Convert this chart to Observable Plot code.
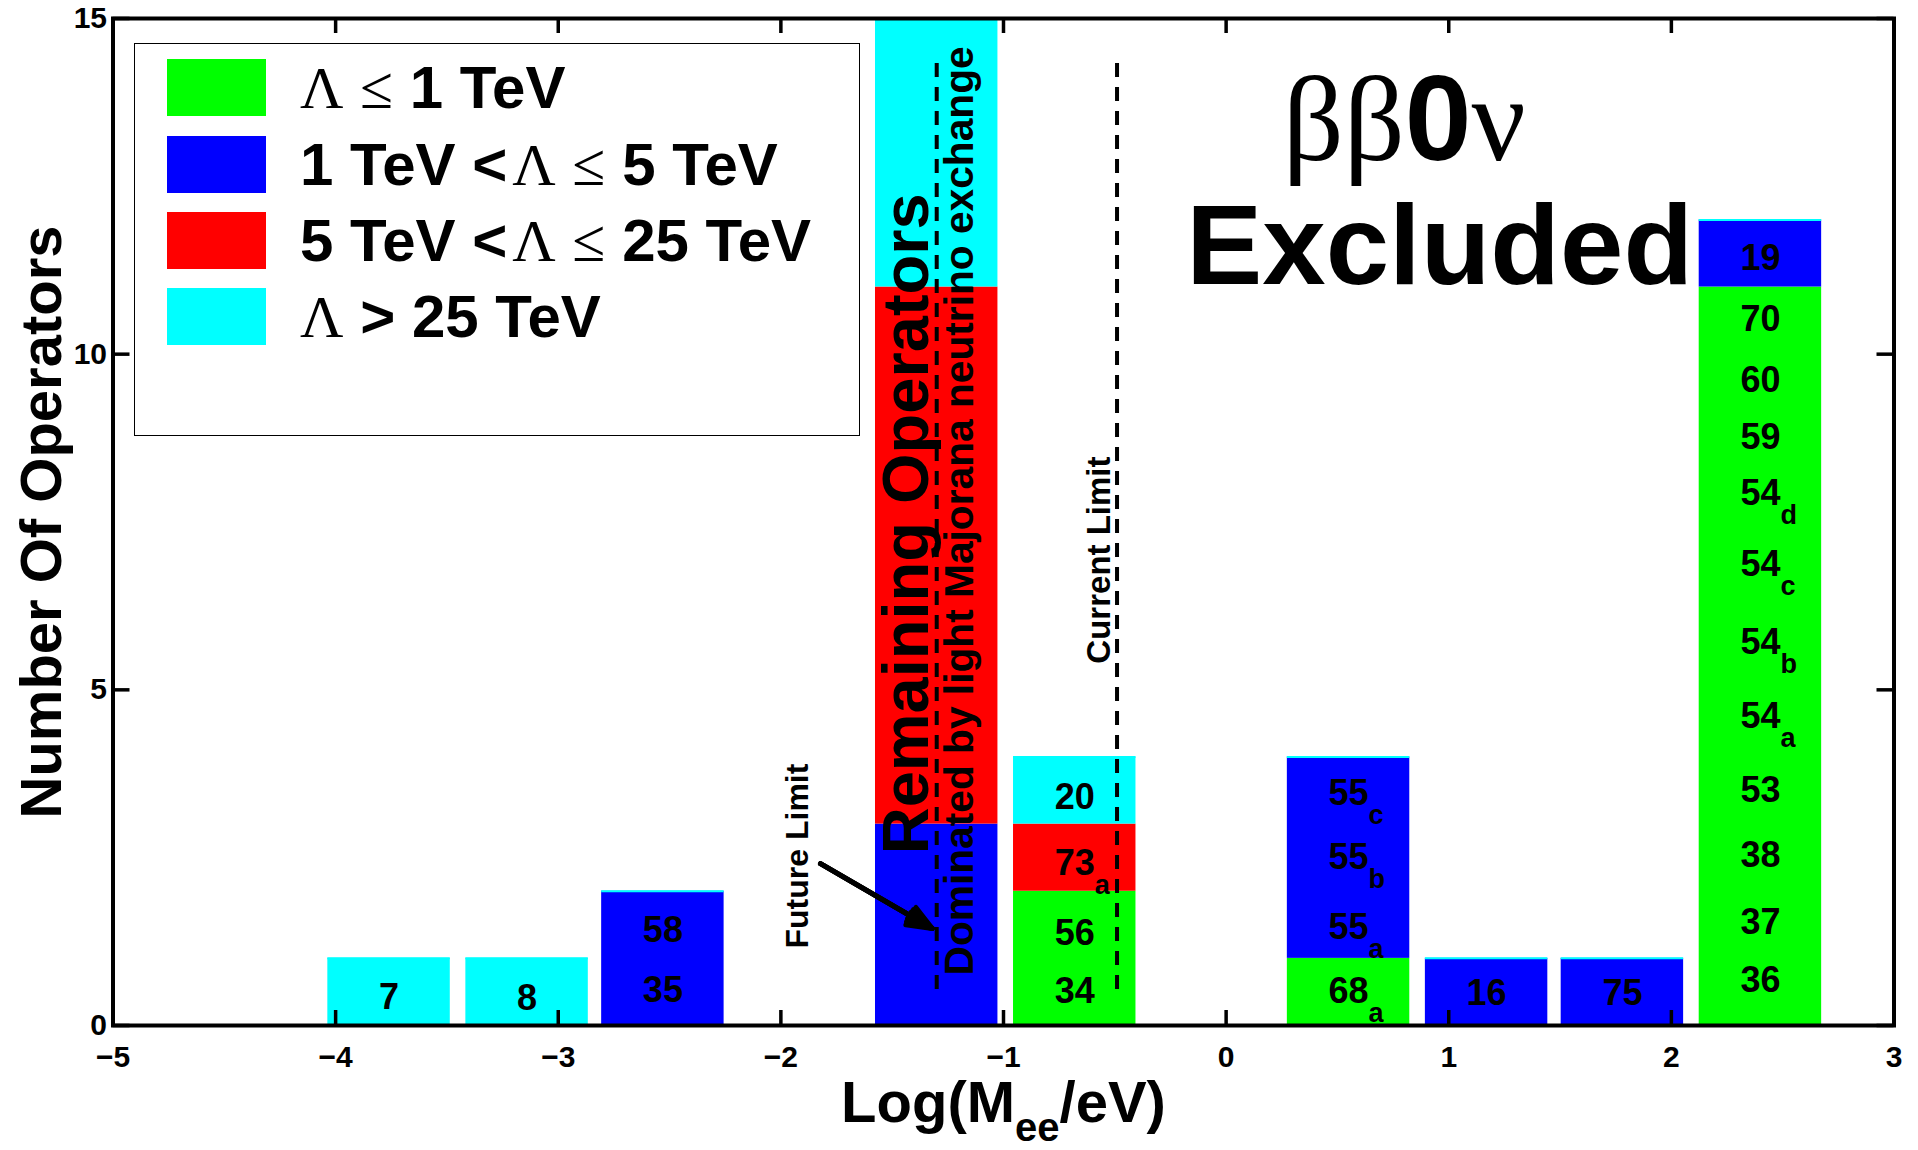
<!DOCTYPE html>
<html><head><meta charset="utf-8">
<script src="https://cdn.jsdelivr.net/npm/d3@7"></script>
<script src="https://cdn.jsdelivr.net/npm/@observablehq/plot@0.6"></script>
<style>
body{margin:0;background:#fff;}
#wrap{position:relative;width:1918px;height:1150px;overflow:hidden;background:#fff;}
#legend{position:absolute;left:134px;top:43px;width:726px;height:393px;border:1.5px solid #000;box-sizing:border-box;background:#fff;font-family:"Liberation Sans",Arial,sans-serif;font-weight:bold;}
.item{position:absolute;left:0;height:57px;}
.sw{position:absolute;left:32px;top:0;width:99px;height:57px;}
.lab{position:absolute;left:165px;top:0;height:57px;line-height:57px;font-size:60px;white-space:nowrap;color:#000;}
.g{font-family:"Liberation Serif","Times New Roman",serif;font-weight:normal;}
.gap{margin-left:5px;}
</style></head>
<body><div id="wrap"></div>
<script>
// ---------- data ----------
const xTicks = [-5, -4, -3, -2, -1, 0, 1, 2, 3];
const yTicks = [0, 5, 10, 15];
const binCenters = [-3.76, -3.14, -2.53, -1.30, -0.68, 0.55, 1.17, 1.78, 2.40];
const categories = ["Λ ≤ 1 TeV", "1 TeV <Λ ≤ 5 TeV", "5 TeV <Λ ≤ 25 TeV", "Λ > 25 TeV"];
const colors = ["#00ff00", "#0000ff", "#ff0000", "#00ffff"];
const countGreen = [0, 0, 0, 0, 2, 1, 0, 0, 11];
const countBlue  = [0, 0, 2, 3, 0, 3, 1, 1, 1];
const countRed   = [0, 0, 0, 8, 1, 0, 0, 0, 0];
const countCyan  = [1, 1, 0, 4, 1, 0, 0, 0, 0];
const opName = ["7", "8", "35", "58", "34", "56", "73_{a}", "20", "68_{a}", "55_{a}", "55_{b}", "55_{c}", "16", "75",
  "36", "37", "38", "53", "54_{a}", "54_{b}", "54_{c}", "54_{d}", "59", "60", "70", "19"];
const opBin = [0, 1, 2, 2, 4, 4, 4, 4, 5, 5, 5, 5, 6, 7, 8, 8, 8, 8, 8, 8, 8, 8, 8, 8, 8, 8];
const opY = [0.42, 0.41, 0.52, 1.41, 0.50, 1.37, 2.41, 3.40, 0.50, 1.46, 2.51, 3.45, 0.48, 0.48,
  0.67, 1.53, 2.53, 3.50, 4.61, 5.70, 6.87, 7.93, 8.76, 9.61, 10.52, 11.42];
const limitX = [-1.30, -0.49];              // future limit, current limit (log10 eV)
const limitSpan = [14.33, 0.43];
const arrowFrom = [-1.822, 2.41];
const arrowTo = [-1.32, 1.445];

// ---------- derived tables ----------
const barHalf = 0.275;
const stackCounts = [countGreen, countBlue, countRed, countCyan];
const segments = [];
const tops = [];
binCenters.forEach((c, i) => {
  let base = 0;
  stackCounts.forEach((arr, k) => {
    const n = arr[i];
    if (n > 0) segments.push({x1: c - barHalf, x2: c + barHalf, y1: base, y2: base + n, cat: categories[k]});
    base += n;
  });
  tops.push({x1: c - barHalf, x2: c + barHalf, y: base});
});
const labels = opName.map((s, i) => ({s, x: binCenters[opBin[i]], y: opY[i]}));

const rotNotes = [
  {s: "Remaining Operators", x: -1.341, y: 2.55, size: 65},
  {s: "Dominated by light Majorana neutrino exchange", x: -1.139, y: 0.745, size: 40.7},
  {s: "Current Limit", x: -0.523, y: 5.39, size: 33},
  {s: "Future Limit", x: -1.876, y: 1.147, size: 32}
];

const SANS = "Liberation Sans, Arial, Helvetica, sans-serif";
const W = 1918, H = 1150, mL = 112.5, mR = 24.5, mT = 18, mB = 125;
const innerW = W - mL - mR, innerH = H - mT - mB;
const arrowOpts = (angle) => ({x1: () => arrowFrom[0], y1: () => arrowFrom[1], x2: () => arrowTo[0], y2: () => arrowTo[1], stroke: "black", strokeWidth: 5, headLength: 8, headAngle: angle});

const plot = Plot.plot({
  width: W, height: H,
  marginLeft: mL, marginRight: mR, marginTop: mT, marginBottom: mB,
  x: {domain: [-5, 3]},
  y: {domain: [0, 15]},
  color: {domain: categories, range: colors},
  style: {fontFamily: SANS, fontWeight: "bold", background: "white", overflow: "visible", color: "black"},
  marks: [
    Plot.rect(segments, {x1: "x1", x2: "x2", y1: "y1", y2: "y2", fill: "cat"}),
    Plot.ruleY(tops, {x1: "x1", x2: "x2", y: "y", stroke: "#00ffff", strokeWidth: 2}),
    Plot.ruleX(limitX, {x: d => d, y1: limitSpan[0], y2: limitSpan[1], stroke: "black", strokeWidth: 4, strokeDasharray: "14,10"}),
    ...rotNotes.map(n => Plot.text([n], {x: "x", y: "y", text: "s", rotate: -90, textAnchor: "start", lineAnchor: "bottom", fontSize: n.size, fontWeight: "bold", fill: "black"})),
    Plot.text(["Excluded"], {x: () => 0.959, y: () => 11.04, textAnchor: "middle", lineAnchor: "bottom", fontSize: 114, fontWeight: "bold"}),
    Plot.text(["ββ0ν"], {x: () => 0.80, y: () => 12.885, textAnchor: "middle", lineAnchor: "bottom", fontSize: 120}),
    Plot.text(labels, {x: "x", y: "y", text: "s", textAnchor: "middle", lineAnchor: "middle", fontSize: 36, fontWeight: "bold", fill: "black"}),
    Plot.arrow([0], arrowOpts(44)),
    Plot.arrow([0], arrowOpts(30)),
    Plot.arrow([0], arrowOpts(16)),
    Plot.tickX(xTicks, {x: d => d, insetTop: innerH - 15, stroke: "black", strokeWidth: 3.5}),
    Plot.tickX(xTicks, {x: d => d, insetBottom: innerH - 15, stroke: "black", strokeWidth: 3.5}),
    Plot.tickY(yTicks, {y: d => d, insetRight: innerW - 17, stroke: "black", strokeWidth: 3.5}),
    Plot.tickY(yTicks, {y: d => d, insetLeft: innerW - 17, stroke: "black", strokeWidth: 3.5}),
    Plot.frame({stroke: "black", strokeWidth: 4}),
    Plot.axisX(xTicks, {tickSize: 0, tickPadding: 20, fontSize: 30, label: null, tickFormat: d => d < 0 ? "−" + Math.abs(d) : String(d)}),
    Plot.axisY(yTicks, {tickSize: 0, tickPadding: 6, fontSize: 30, label: null, tickFormat: d => String(d)}),
    Plot.text(["Number Of Operators"], {frameAnchor: "left", rotate: -90, dx: -52.5, textAnchor: "middle", lineAnchor: "bottom", fontSize: 58, fontWeight: "bold"}),
    Plot.text(["Log(M_{ee}/eV)"], {frameAnchor: "bottom", dy: 96, textAnchor: "middle", lineAnchor: "bottom", fontSize: 58, fontWeight: "bold"})
  ]
});

const wrap = document.getElementById("wrap");
wrap.appendChild(plot);

// ---------- rich text: subscripts & mixed fonts ----------
const NS = "http://www.w3.org/2000/svg";
function tspan(txt, attrs) {
  const t = document.createElementNS(NS, "tspan");
  t.textContent = txt;
  for (const k in attrs) t.setAttribute(k, attrs[k]);
  return t;
}
plot.querySelectorAll("text").forEach(t => {
  const s = t.textContent;
  if (s === "ββ0ν") {
    t.textContent = "";
    t.appendChild(tspan("ββ", {"font-family": "Liberation Serif, Times New Roman, serif", "font-weight": "normal"}));
    t.appendChild(tspan("0", {"font-family": SANS, "font-weight": "bold"}));
    t.appendChild(tspan("ν", {"font-family": "Liberation Serif, Times New Roman, serif", "font-weight": "normal"}));
    return;
  }
  const m = s.match(/^(.*?)_\{(.*?)\}(.*)$/);
  if (!m) return;
  const [, main, sub, rest] = m;
  if (rest === "") {
    // operator label: keep the number centred on the bar, subscript hangs right
    t.textContent = main;
    const w = t.getComputedTextLength();
    t.textContent = "";
    t.setAttribute("text-anchor", "start");
    t.appendChild(tspan(main, {dx: (-w / 2).toFixed(2)}));
    t.appendChild(tspan(sub, {"font-size": 27, dy: 19}));
  } else {
    t.textContent = "";
    t.appendChild(tspan(main, {}));
    t.appendChild(tspan(sub, {"font-size": 40, dy: 19}));
    t.appendChild(tspan(rest, {dy: -19}));
  }
});

// ---------- legend ----------
const legend = document.createElement("div");
legend.id = "legend";
const legendHTML = [
  '<span class="g">Λ</span> <span class="g">≤</span> 1 TeV',
  '1 TeV &lt;<span class="g gap">Λ</span> <span class="g">≤</span> 5 TeV',
  '5 TeV &lt;<span class="g gap">Λ</span> <span class="g">≤</span> 25 TeV',
  '<span class="g">Λ</span> &gt; 25 TeV'
];
const itemTops = [15, 92, 168, 244];
categories.forEach((c, i) => {
  const it = document.createElement("div");
  it.className = "item";
  it.style.top = itemTops[i] + "px";
  it.innerHTML = `<div class="sw" style="background:${colors[i]}"></div><div class="lab">${legendHTML[i]}</div>`;
  legend.appendChild(it);
});
wrap.appendChild(legend);
</script></body></html>
